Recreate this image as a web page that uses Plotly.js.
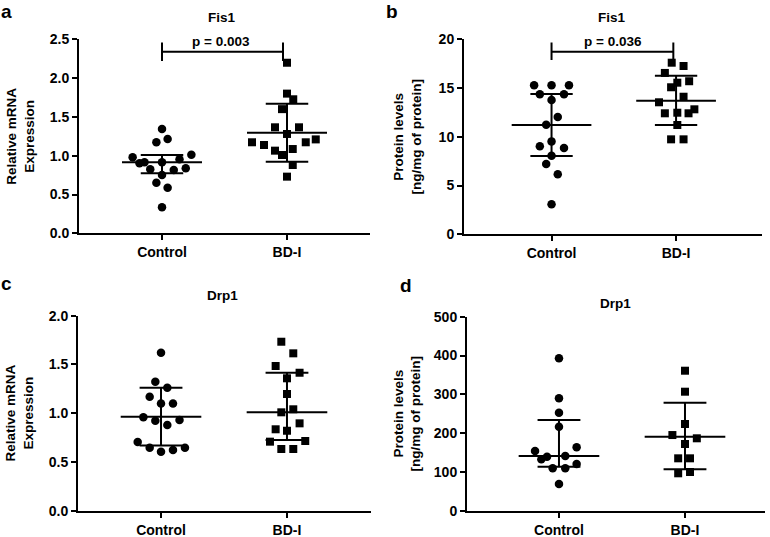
<!DOCTYPE html>
<html>
<head>
<meta charset="utf-8">
<script src="https://cdn.plot.ly/plotly-3.0.1.min.js"></script>
<style>html,body{margin:0;padding:0;background:#fff;}#chart{width:770px;height:537px;}</style>
</head>
<body>
<div id="chart"></div>
<script>
// ---------------- DATA ----------------
const categories = ['Control', 'BD-I'];

// Panel a: Fis1 relative mRNA expression
const aControl   = [1.344, 1.215, 1.173, 1.013, 0.979, 0.954, 0.915, 0.915, 0.902, 0.838, 0.825, 0.816, 0.751, 0.652, 0.588, 0.335];
const aControlDx = [0, 0.045, -0.045, 0.235, -0.235, 0.14, -0.14, 0, -0.18, 0.19, -0.094, 0.094, 0, -0.045, 0.045, 0];
const aBD        = [2.198, 1.80, 1.727, 1.60, 1.366, 1.366, 1.28, 1.21, 1.173, 1.173, 1.138, 1.086, 1.065, 1.009, 0.88, 0.73];
const aBDDx      = [0, 0, 0.05, -0.04, -0.096, 0.096, 0, 0.23, -0.28, 0.15, -0.184, 0.046, -0.096, -0.04, 0.046, 0];
const aCenter = [0.915, 1.296];
const aLower  = [0.773, 0.923];
const aUpper  = [1.009, 1.67];
const aPText = 'p = 0.003';

// Panel b: Fis1 protein levels
const bControl   = [15.28, 15.28, 15.28, 14.37, 14.37, 13.78, 12.03, 11.23, 9.53, 9.02, 8.85, 8.05, 7.2, 6.15, 3.08];
const bControlDx = [-0.14, 0, 0.14, -0.094, 0.1, 0, 0.05, -0.043, 0, -0.094, 0.1, 0, -0.043, 0.05, 0];
const bBD        = [17.6, 17.26, 16.55, 15.7, 15.55, 15.08, 14.11, 13.54, 12.82, 12.41, 12.47, 12.41, 11.21, 9.74, 9.74];
const bBDDx      = [-0.035, 0.06, -0.09, 0.105, 0.01, -0.04, 0.06, -0.137, 0.147, 0.1, 0.01, -0.09, 0.01, -0.04, 0.06];
const bCenter = [11.2, 13.7];
const bLower  = [8.03, 11.21];
const bUpper  = [14.39, 16.27];
const bPText = 'p = 0.036';

// Panel c: Drp1 relative mRNA expression
const cControl   = [1.621, 1.323, 1.262, 1.169, 1.10, 1.10, 0.958, 0.923, 0.879, 0.930, 0.704, 0.646, 0.605, 0.622, 0.646];
const cControlDx = [0, -0.045, 0.05, -0.09, 0, 0.095, -0.14, -0.045, 0.05, 0.147, -0.185, -0.09, 0, 0.095, 0.19];
const cBD        = [1.733, 1.614, 1.484, 1.415, 1.358, 1.197, 1.04, 1.009, 0.896, 0.835, 0.82, 0.708, 0.715, 0.633, 0.633];
const cBDDx      = [-0.045, 0.05, -0.09, 0.1, 0, 0, 0.05, -0.045, 0.1, -0.09, 0, -0.135, 0.145, -0.045, 0.05];
const cCenter = [0.964, 1.009];
const cLower  = [0.67, 0.725];
const cUpper  = [1.262, 1.415];

// Panel d: Drp1 protein levels
const dControl   = [392.8, 289.7, 252.6, 216.5, 163.4, 153.9, 141, 139.2, 132.5, 120.4, 109.3, 109.3, 68.8];
const dControlDx = [0, 0, 0, 0, 0.14, -0.19, 0.05, -0.095, -0.14, 0.14, -0.05, 0.05, 0];
const dBD        = [360.8, 306.7, 223.5, 195, 186.6, 171.9, 135, 135, 96.4, 99.7];
const dBDDx      = [0, 0, 0, -0.1, 0.094, 0, -0.054, 0.04, -0.054, 0.04];
const dCenter = [141, 190.8];
const dLower  = [113.4, 106.7];
const dUpper  = [234, 278.4];

// ---------------- STYLE / LAYOUT ----------------
const W = 770, H = 537;
const FONT = 'Arial, "Liberation Sans", Helvetica, sans-serif';
const MEAN_HALF = 0.32, CAP_HALF = 0.17;

function xd(p0, p1) { return [p0 / W, p1 / W]; }
function yd(pBottom, pTop) { return [1 - pBottom / H, 1 - pTop / H]; }

function points(vals, offs, cat, symbol, size, ax) {
  return {
    type: 'scatter', mode: 'markers',
    x: vals.map((v, i) => cat + offs[i]), y: vals,
    xaxis: 'x' + ax, yaxis: 'y' + ax,
    marker: {symbol: symbol, size: size, color: '#000'},
    cliponaxis: false, showlegend: false, hoverinfo: 'y'
  };
}

function summary(center, lower, upper, ax) {
  const xs = [], ys = [];
  center.forEach((c, i) => {
    xs.push(i - MEAN_HALF, i + MEAN_HALF, null); ys.push(c, c, null);
    xs.push(i - CAP_HALF, i + CAP_HALF, null); ys.push(upper[i], upper[i], null);
    xs.push(i - CAP_HALF, i + CAP_HALF, null); ys.push(lower[i], lower[i], null);
    xs.push(i, i, null); ys.push(lower[i], upper[i], null);
  });
  return {
    type: 'scatter', mode: 'lines', x: xs, y: ys,
    xaxis: 'x' + ax, yaxis: 'y' + ax,
    line: {color: '#000', width: 2}, cliponaxis: false,
    showlegend: false, hoverinfo: 'skip'
  };
}

function bracket(yLine, yLo, yHi, xEnd, ax) {
  return {
    type: 'scatter', mode: 'lines',
    x: [0, 0, null, 0, xEnd, null, xEnd, xEnd],
    y: [yLo, yHi, null, yLine, yLine, null, yLo, yHi],
    xaxis: 'x' + ax, yaxis: 'y' + ax,
    line: {color: '#000', width: 2}, cliponaxis: false,
    showlegend: false, hoverinfo: 'skip'
  };
}

const data = [
  summary(aCenter, aLower, aUpper, ''),
  points(aControl, aControlDx, 0, 'circle', 8.5, ''),
  points(aBD, aBDDx, 1, 'square', 8, ''),
  bracket(2.34, 2.22, 2.46, 0.968, ''),

  summary(bCenter, bLower, bUpper, '2'),
  points(bControl, bControlDx, 0, 'circle', 8.5, '2'),
  points(bBD, bBDDx, 1, 'square', 8, '2'),
  bracket(18.73, 17.88, 19.66, 0.978, '2'),

  summary(cCenter, cLower, cUpper, '3'),
  points(cControl, cControlDx, 0, 'circle', 8.5, '3'),
  points(cBD, cBDDx, 1, 'square', 8, '3'),

  summary(dCenter, dLower, dUpper, '4'),
  points(dControl, dControlDx, 0, 'circle', 8.5, '4'),
  points(dBD, dBDDx, 1, 'square', 8, '4')
];

const tickFont = {family: FONT, size: 14, color: '#000', weight: 'bold'};
const titleFont = {family: FONT, size: 13.5, color: '#000', weight: 'bold'};

function xAxis(domain, range, anchor) {
  return {
    domain: domain, range: range, anchor: anchor,
    tickvals: [0, 1], ticktext: categories,
    showline: true, linecolor: '#000', linewidth: 2,
    ticks: 'outside', ticklen: 5, tickwidth: 2, tickcolor: '#000',
    showgrid: false, zeroline: false, tickfont: tickFont, fixedrange: true
  };
}
function yAxis(domain, range, dtick, fmt, anchor, title, standoff) {
  return {
    domain: domain, range: range, anchor: anchor,
    dtick: dtick, tick0: 0, tickformat: fmt,
    showline: true, linecolor: '#000', linewidth: 2,
    ticks: 'outside', ticklen: 5, tickwidth: 2, tickcolor: '#000',
    showgrid: false, zeroline: false, tickfont: tickFont, fixedrange: true,
    title: {text: title, font: titleFont, standoff: standoff}
  };
}

const mrnaTitle = 'Relative mRNA<br>Expression';
const protTitle = 'Protein levels<br>[ng/mg of protein]';

function ann(text, x, y, size, extra) {
  return Object.assign({
    text: text, x: x, y: y, xref: 'paper', yref: 'paper',
    showarrow: false, xanchor: 'center', yanchor: 'middle',
    font: {family: FONT, size: size, color: '#000', weight: 'bold'}
  }, extra || {});
}

const layout = {
  width: W, height: H,
  margin: {l: 0, r: 0, t: 0, b: 0},
  paper_bgcolor: '#fff', plot_bgcolor: '#fff',
  showlegend: false,
  xaxis:  xAxis(xd(79, 370), [-0.664, 1.664], 'y'),
  yaxis:  yAxis(yd(233.3, 39.3), [0, 2.5], 0.5, '.1f', 'x', mrnaTitle, 12),
  xaxis2: xAxis(xd(464, 762), [-0.703, 1.690], 'y2'),
  yaxis2: yAxis(yd(234.3, 39.3), [0, 20], 5, 'd', 'x2', protTitle, 14),
  xaxis3: xAxis(xd(78, 371), [-0.659, 1.667], 'y3'),
  yaxis3: yAxis(yd(510.7, 315.7), [0, 2.0], 0.5, '.1f', 'x3', mrnaTitle, 12),
  xaxis4: xAxis(xd(467, 765), [-0.730, 1.635], 'y4'),
  yaxis4: yAxis(yd(510.7, 316.7), [0, 500], 100, 'd', 'x4', protTitle, 10),
  annotations: [
    ann('a', 6 / W, 1 - 12 / H, 19),
    ann('b', 392 / W, 1 - 12 / H, 19),
    ann('c', 6 / W, 1 - 283 / H, 19),
    ann('d', 406 / W, 1 - 285 / H, 19),
    ann('Fis1', 222 / W, 1 - 18 / H, 13.5),
    ann('Fis1', 612 / W, 1 - 17 / H, 13.5),
    ann('Drp1', 222 / W, 1 - 295 / H, 13.5),
    ann('Drp1', 615 / W, 1 - 303 / H, 13.5),
    {text: aPText, x: 0.475, y: 2.47, xref: 'x', yref: 'y', showarrow: false,
     xanchor: 'center', yanchor: 'middle',
     font: {family: FONT, size: 13.5, color: '#000', weight: 'bold'}},
    {text: bPText, x: 0.49, y: 19.76, xref: 'x2', yref: 'y2', showarrow: false,
     xanchor: 'center', yanchor: 'middle',
     font: {family: FONT, size: 13.5, color: '#000', weight: 'bold'}}
  ]
};

Plotly.newPlot('chart', data, layout, {displayModeBar: false, staticPlot: true});
</script>
</body>
</html>
